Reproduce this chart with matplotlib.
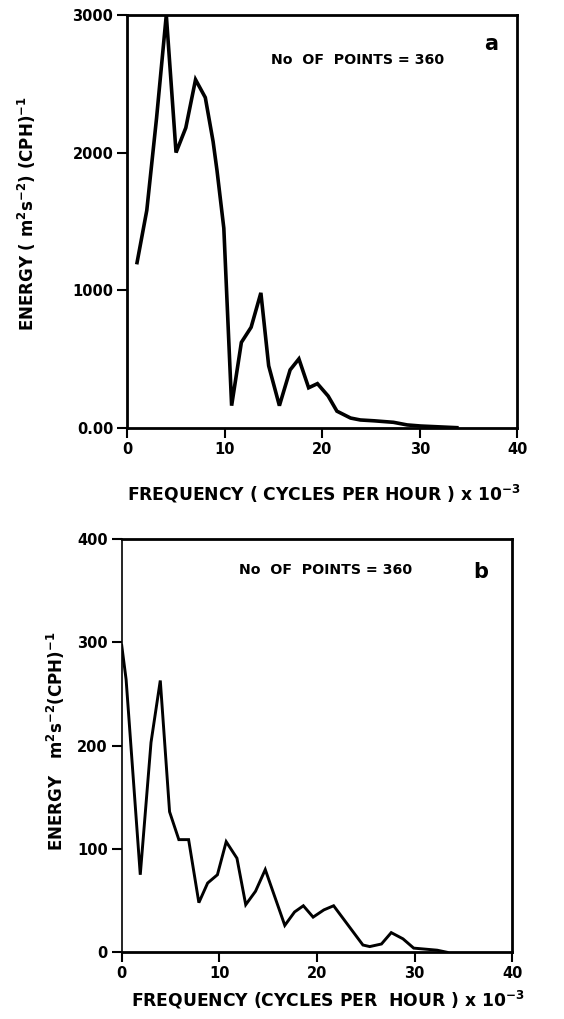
import matplotlib
matplotlib.use('Agg')
import matplotlib.pyplot as plt
from matplotlib import rcParams

rcParams['font.family'] = ['DejaVu Sans']
rcParams['font.weight'] = 'bold'
rcParams['mathtext.default'] = 'bf'

# panel a: spectrum, frequency in 10^-3 cph
freq_a = [1, 2, 3, 4, 5, 6, 7, 8, 8.8, 9.2, 9.9, 10.7, 11.7, 12.7, 13.7, 14.5,
          15.6, 16.7, 17.6, 18.6, 19.5, 20.6, 21.5, 22.9, 23.9, 25.3, 27.3,
          28.7, 30.1, 33.8]
energy_a = [1200, 1580, 2250, 3000, 2000, 2180, 2530, 2400, 2080, 1870, 1450,
            160, 620, 730, 980, 450, 160, 420, 500, 290, 320, 230, 120, 70,
            56, 50, 39, 20, 12, 0]

# panel b
freq_b = [0, 0.45, 1.9, 3.0, 3.95, 4.9, 5.85, 6.85, 7.9, 8.8, 9.8, 10.7, 11.8,
          12.7, 13.7, 14.7, 16.7, 17.7, 18.6, 19.6, 20.7, 21.7, 24.7, 25.4,
          26.6, 27.6, 28.8, 29.9, 32.3, 33.3]
energy_b = [297, 264, 75, 203, 263, 136, 109, 109, 48, 67, 75, 107, 91, 46, 59,
            80, 26, 39, 45, 34, 41, 45, 7, 5.5, 8, 19, 13, 4, 2, 0]

xticks = [0, 10, 20, 30, 40]
yticks_a = [0, 1000, 2000, 3000]
ylabels_a = ['0.00', '1000', '2000', '3000']
yticks_b = [0, 100, 200, 300, 400]

fig = plt.figure(figsize=(5.64, 10.19), dpi=100)

ax1 = fig.add_axes([0.2257, 0.5803, 0.6915, 0.4050])
ax1.plot(freq_a, energy_a, color='black', lw=2.6, solid_joinstyle='miter')
ax1.set_xlim(0, 40)
ax1.set_ylim(0, 3000)
ax1.set_xticks(xticks)
ax1.set_xticklabels([str(t) for t in xticks])
ax1.set_yticks(yticks_a)
ax1.set_yticklabels(ylabels_a)
ax1.set_ylabel(r'ENERGY ( m$^{2}$s$^{-2}$) (CPH)$^{-1}$', fontsize=12,
               fontweight='bold')
ax1.yaxis.set_label_coords(-0.228, 0.52)
ax1.set_xlabel(r'FREQUENCY ( CYCLES PER HOUR ) x 10$^{-3}$', fontsize=12.3,
               fontweight='bold')
ax1.xaxis.set_label_coords(0.505, -0.133)
ax1.text(23.6, 2672, 'No  OF  POINTS = 360', fontsize=10.2, fontweight='bold',
         ha='center', va='center')
ax1.text(37.3, 2790, 'a', fontsize=15, fontweight='bold', ha='center', va='center')

ax2 = fig.add_axes([0.2158, 0.0655, 0.6926, 0.4056])
ax2.plot(freq_b, energy_b, color='black', lw=2.1, solid_joinstyle='miter')
ax2.set_xlim(0, 40)
ax2.set_ylim(0, 400)
ax2.set_xticks(xticks)
ax2.set_xticklabels([str(t) for t in xticks])
ax2.set_yticks(yticks_b)
ax2.set_ylabel(r'ENERGY   m$^{2}$s$^{-2}$(CPH)$^{-1}$', fontsize=12,
               fontweight='bold')
ax2.yaxis.set_label_coords(-0.14, 0.51)
ax2.set_xlabel(r'FREQUENCY (CYCLES PER  HOUR ) x 10$^{-3}$', fontsize=12.3,
               fontweight='bold')
ax2.xaxis.set_label_coords(0.528, -0.088)
ax2.text(20.9, 370, 'No  OF  POINTS = 360', fontsize=10.2, fontweight='bold',
         ha='center', va='center')
ax2.text(36.8, 368, 'b', fontsize=15, fontweight='bold', ha='center', va='center')

for ax in (ax1, ax2):
    for s in ax.spines.values():
        s.set_linewidth(2.0)
    ax.tick_params(direction='out', length=7, width=1.5, labelsize=10.5, pad=3)
    for lab in ax.get_xticklabels() + ax.get_yticklabels():
        lab.set_fontweight('bold')
ax2.spines['left'].set_linewidth(1.2)

fig.savefig('out.png', dpi=100)
